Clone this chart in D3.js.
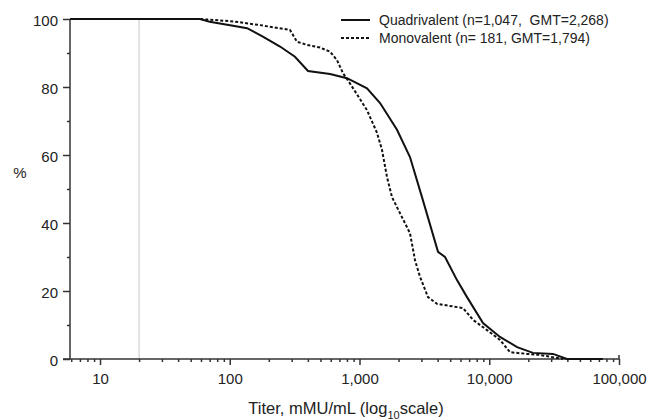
<!DOCTYPE html>
<html>
<head>
    <style>
        body { margin: 0; background: #fff; }
        svg { font-family: Arial, 'Liberation Sans', sans-serif; }
    </style>
</head>
<body>
    <div id="chart"></div>
    <script src="https://d3js.org/d3.v7.min.js"></script>
    <script>
        // reverse cumulative distribution, titer (mMU/mL) vs % of subjects
        const quadTiter = [5.9, 24, 59, 70, 106, 136, 180, 244, 318, 401, 593, 801, 1142, 1440, 1945, 2449, 3031, 4029, 4560, 5640, 6740, 8950, 12100, 16400, 21700, 31000, 39700, 75000];
        const quadPct   = [100, 100, 100, 99.2, 98, 97.3, 94.8, 91.9, 88.9, 84.7, 83.8, 82.6, 79.6, 75.3, 67.4, 59.4, 47.6, 31.5, 30, 23.2, 18.2, 10.6, 6.5, 3.5, 1.8, 1.5, 0, 0];

        const monoTiter = [5.9, 59, 106, 171, 291, 330, 394, 496, 593, 671, 747, 846, 1142, 1365, 1490, 1629, 1780, 2449, 2680, 2925, 3372, 3955, 6276, 7500, 9610, 12100, 14450, 19550, 24600, 37000];
        const monoPct   = [100, 100, 99.3, 98.2, 96.8, 93.3, 92.4, 91.6, 90.4, 87.9, 84, 81, 73.2, 66.5, 61.5, 53.5, 47.6, 37, 29, 24.2, 18.2, 16.2, 15, 11.5, 8.5, 5.6, 2, 1.5, 1.2, 0];

        const xTicks = [10, 100, 1000, 10000, 100000];
        const yTicks = [0, 20, 40, 60, 80, 100];
        const lloq = 20;

        const seriesNames = ["Quadrivalent (n=1,047,  GMT=2,268)", "Monovalent (n= 181, GMT=1,794)"];

        const [width, height] = [657, 420];
        const svg = d3.select("#chart").append("svg")
            .attr("width", width).attr("height", height);

        const x = d3.scaleLog().domain([5.87, 100000]).range([70, 619]);
        const y = d3.scaleLinear().domain([0, 100]).range([359, 19]);

        // LLOQ reference line
        svg.append("line")
            .attr("x1", x(lloq)).attr("x2", x(lloq))
            .attr("y1", y(100)).attr("y2", y(0))
            .attr("stroke", "#cfcfcf").attr("stroke-width", 1.2);

        // minor x ticks
        const minor = [];
        for (let e = 0; e < 5; e++) {
            for (let m = 2; m <= 9; m++) {
                const v = m * Math.pow(10, e);
                if (v > 5.87 && v < 100000) minor.push(v);
            }
        }
        const xMinor = d3.axisBottom(x).tickValues(minor).tickSize(3).tickFormat("");
        const gxm = svg.append("g").attr("transform", `translate(0,${y(0)})`).call(xMinor);
        gxm.select(".domain").remove();

        const xAxis = d3.axisBottom(x).tickValues(xTicks).tickSize(6).tickPadding(8)
            .tickFormat(d3.format(","));
        const gx = svg.append("g").attr("transform", `translate(0,${y(0)})`).call(xAxis);
        gx.select(".domain").attr("d", `M${x(5.87) - 7},0H${x(100000)}`);

        // small upward tick at the end of the x axis
        svg.append("line")
            .attr("x1", x(100000)).attr("x2", x(100000))
            .attr("y1", y(0) - 4).attr("y2", y(0))
            .attr("stroke", "#333").attr("stroke-width", 1.5);

        // y axis with minor ticks
        const yMinor = d3.axisLeft(y).tickValues([10, 30, 50, 70, 90]).tickSize(3).tickFormat("");
        const gym = svg.append("g").attr("transform", `translate(${x(5.87)},0)`).call(yMinor);
        gym.select(".domain").remove();

        const yAxis = d3.axisLeft(y).tickValues(yTicks).tickSize(7).tickPadding(5);
        const gy = svg.append("g").attr("transform", `translate(${x(5.87)},0)`).call(yAxis);
        gy.select(".domain").attr("d", `M0,${y(100)}V${y(0)}`);

        svg.selectAll(".domain, .tick line").attr("stroke", "#333").attr("stroke-width", 1.5);
        svg.selectAll(".tick text").attr("fill", "#222").style("font-size", "15px");
        gy.selectAll(".tick text").attr("dy", "0.42em");

        // curves
        const line = d3.line().x(d => x(d[0])).y(d => y(d[1]));

        svg.append("path")
            .datum(quadTiter.map((t, i) => [t, quadPct[i]]))
            .attr("d", line).attr("fill", "none")
            .attr("stroke", "#111").attr("stroke-width", 2);

        svg.append("path")
            .datum(monoTiter.map((t, i) => [t, monoPct[i]]))
            .attr("d", line).attr("fill", "none")
            .attr("stroke", "#111").attr("stroke-width", 2)
            .attr("stroke-dasharray", "3,2");

        // legend
        const legend = svg.append("g").attr("transform", "translate(341,20)");
        seriesNames.forEach((name, i) => {
            const row = legend.append("g").attr("transform", `translate(0,${i * 18})`);
            row.append("line")
                .attr("x1", 0).attr("x2", 29)
                .attr("stroke", "#111").attr("stroke-width", 2)
                .attr("stroke-dasharray", i === 1 ? "3,2" : null);
            row.append("text")
                .attr("x", 38).attr("dy", "0.36em")
                .attr("fill", "#222").style("font-size", "14px")
                .style("white-space", "pre")
                .text(name);
        });

        // axis titles
        svg.append("text")
            .attr("x", 20).attr("y", 178)
            .attr("text-anchor", "middle")
            .attr("fill", "#222").style("font-size", "15px")
            .text("%");

        const xt = svg.append("text")
            .attr("x", 346).attr("y", 414)
            .attr("text-anchor", "middle")
            .attr("fill", "#222").style("font-size", "16.5px");
        xt.append("tspan").text("Titer, mMU/mL (log");
        xt.append("tspan").attr("dy", 5).style("font-size", "11px").text("10");
        xt.append("tspan").attr("dy", -5).text("scale)");
    </script>
</body>
</html>
